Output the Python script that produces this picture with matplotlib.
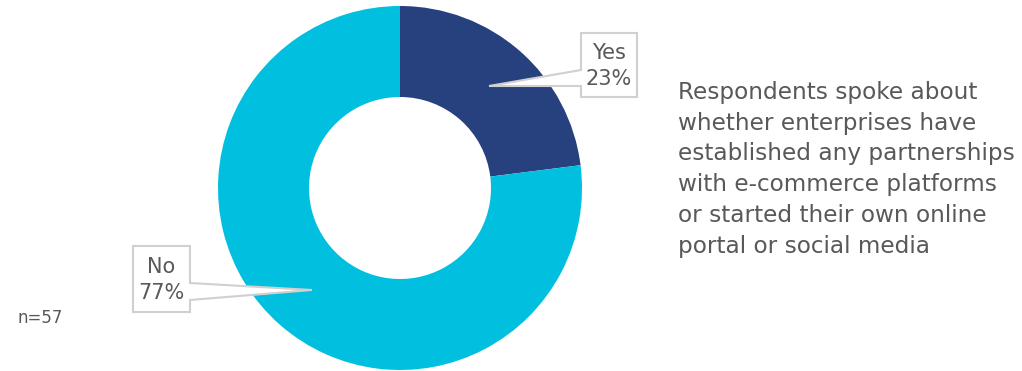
import matplotlib.pyplot as plt
from matplotlib.patches import Polygon

labels = ["Yes", "No"]
shares = [23, 77]
colors = ["#27407E", "#00BFDF"]
note = ("Respondents spoke about\nwhether enterprises have\nestablished any partnerships\n"
        "with e-commerce platforms\nor started their own online\nportal or social media")
sample = "n=57"

W, H = 1022, 371
fig = plt.figure(figsize=(W / 100, H / 100), dpi=100)
ax = fig.add_axes([0, 0, 1, 1])

def py(y):
    # image pixel row -> axes y
    return H - y

ax.pie(shares, colors=colors, startangle=90, counterclock=False,
       center=(400, py(188)), radius=182,
       wedgeprops=dict(width=91, edgecolor="none"))

ax.set_xlim(0, W)
ax.set_ylim(0, H)
ax.set_aspect("equal")
ax.axis("off")

txt = "#595959"
edge = "#D0D0D0"

# callout for Yes
yes_pts = [(581, 33), (637, 33), (637, 97), (581, 97), (581, 86), (489, 86), (581, 70)]
ax.add_patch(Polygon([(x, py(y)) for x, y in yes_pts], closed=True,
                     facecolor="white", edgecolor=edge, lw=1.5, zorder=3))
ax.text(609, py(66), f"{labels[0]}\n{shares[0]}%", ha="center", va="center",
        fontsize=15, color=txt, family="DejaVu Sans", linespacing=1.38, zorder=4)

# callout for No
no_pts = [(133, 246), (190, 246), (190, 283), (312, 290), (190, 300), (190, 312), (133, 312)]
ax.add_patch(Polygon([(x, py(y)) for x, y in no_pts], closed=True,
                     facecolor="white", edgecolor=edge, lw=1.5, zorder=3))
ax.text(161, py(280), f"{labels[1]}\n{shares[1]}%", ha="center", va="center",
        fontsize=15, color=txt, family="DejaVu Sans", linespacing=1.38, zorder=4)

ax.text(678, py(81), note, ha="left", va="top", fontsize=16.7, color=txt,
        family="DejaVu Sans", linespacing=1.43)

ax.text(17, py(318), sample, ha="left", va="center", fontsize=12, color=txt,
        family="DejaVu Sans")

fig.savefig("out.png", dpi=100)
